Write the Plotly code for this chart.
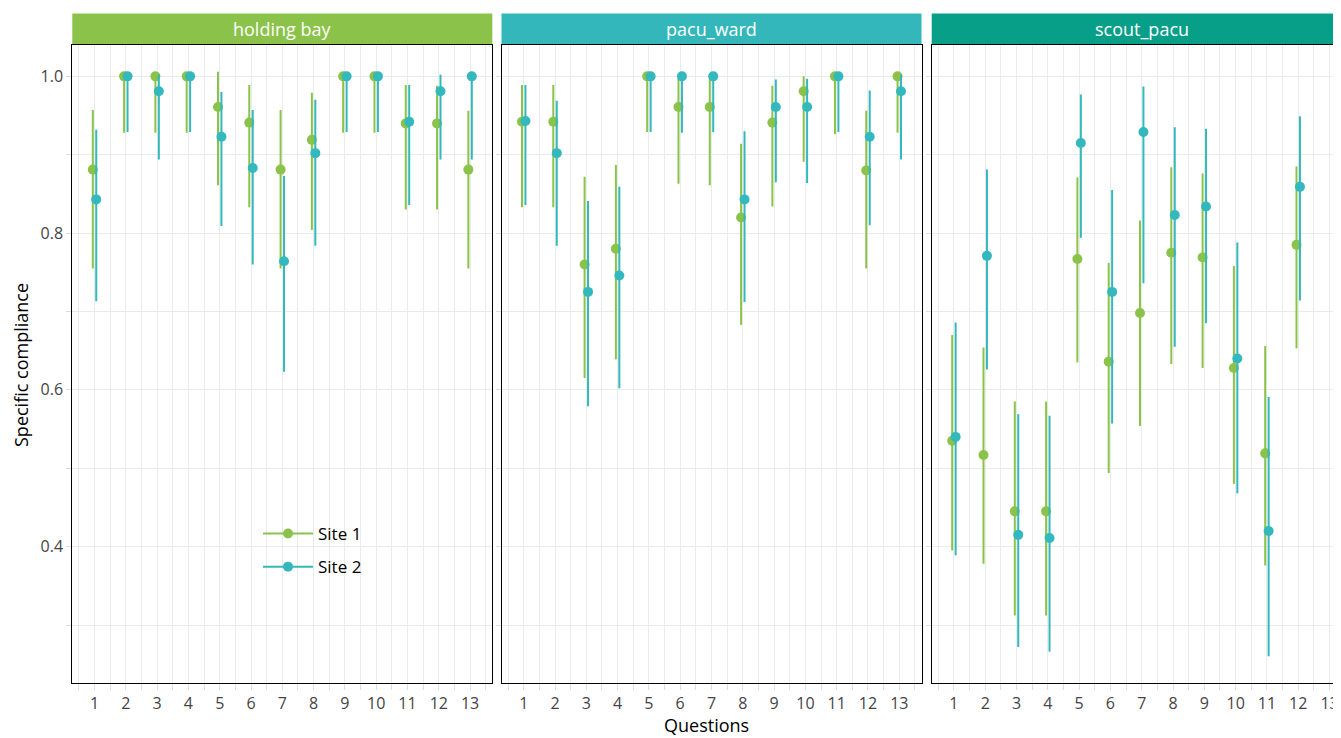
import plotly.graph_objects as go

# ---------------- data ----------------
questions = list(range(1, 14))
facets = ["holding bay", "pacu_ward", "scout_pacu"]
strip_colors = ["#8BC34A", "#33B7BA", "#079F87"]
site_names = ["Site 1", "Site 2"]
site_colors = ["#8BC34A", "#33B8BD"]

# holding bay
hb_s1 = [0.881, 1.0, 1.0, 1.0, 0.961, 0.941, 0.881, 0.919, 1.0, 1.0, 0.940, 0.940, 0.881]
hb_s1_lo = [0.755, 0.928, 0.928, 0.928, 0.861, 0.833, 0.755, 0.804, 0.928, 0.928, 0.830, 0.830, 0.755]
hb_s1_hi = [0.957, 1.0, 1.0, 1.0, 1.006, 0.989, 0.957, 0.979, 1.0, 1.0, 0.989, 0.988, 0.956]
hb_s2 = [0.843, 1.0, 0.981, 1.0, 0.923, 0.883, 0.764, 0.902, 1.0, 1.0, 0.942, 0.981, 1.0]
hb_s2_lo = [0.713, 0.929, 0.894, 0.929, 0.809, 0.760, 0.623, 0.784, 0.929, 0.929, 0.836, 0.894, 0.894]
hb_s2_hi = [0.932, 1.0, 1.002, 1.0, 0.980, 0.957, 0.873, 0.970, 1.0, 1.0, 0.989, 1.002, 1.0]

# pacu_ward
pw_s1 = [0.942, 0.942, 0.760, 0.780, 1.0, 0.961, 0.961, 0.820, 0.941, 0.981, 1.0, 0.880, 1.0]
pw_s1_lo = [0.833, 0.833, 0.615, 0.639, 0.929, 0.863, 0.861, 0.683, 0.834, 0.891, 0.926, 0.755, 0.928]
pw_s1_hi = [0.989, 0.989, 0.872, 0.887, 1.0, 0.997, 0.997, 0.914, 0.988, 1.0, 1.0, 0.956, 1.0]
pw_s2 = [0.943, 0.902, 0.725, 0.746, 1.0, 1.0, 1.0, 0.843, 0.961, 0.961, 1.0, 0.923, 0.981]
pw_s2_lo = [0.836, 0.784, 0.579, 0.602, 0.929, 0.928, 0.929, 0.712, 0.865, 0.864, 0.929, 0.810, 0.894]
pw_s2_hi = [0.989, 0.969, 0.841, 0.859, 1.0, 1.0, 1.0, 0.930, 0.996, 0.997, 1.0, 0.982, 1.002]

# scout_pacu (no question 13)
sp_s1 = [0.535, 0.517, 0.445, 0.445, 0.767, 0.636, 0.698, 0.775, 0.769, 0.628, 0.519, 0.785, None]
sp_s1_lo = [0.395, 0.378, 0.312, 0.312, 0.635, 0.494, 0.554, 0.633, 0.628, 0.480, 0.376, 0.653, None]
sp_s1_hi = [0.670, 0.654, 0.585, 0.585, 0.871, 0.762, 0.816, 0.884, 0.876, 0.758, 0.656, 0.885, None]
sp_s2 = [0.540, 0.771, 0.415, 0.411, 0.915, 0.725, 0.929, 0.823, 0.834, 0.640, 0.420, 0.859, None]
sp_s2_lo = [0.389, 0.626, 0.272, 0.266, 0.794, 0.557, 0.736, 0.655, 0.685, 0.468, 0.260, 0.714, None]
sp_s2_hi = [0.686, 0.881, 0.569, 0.567, 0.977, 0.855, 0.987, 0.935, 0.933, 0.788, 0.591, 0.949, None]

panel_data = [
    [(hb_s1, hb_s1_lo, hb_s1_hi), (hb_s2, hb_s2_lo, hb_s2_hi)],
    [(pw_s1, pw_s1_lo, pw_s1_hi), (pw_s2, pw_s2_lo, pw_s2_hi)],
    [(sp_s1, sp_s1_lo, sp_s1_hi), (sp_s2, sp_s2_lo, sp_s2_hi)],
]

y_major = [0.4, 0.6, 0.8, 1.0]
y_labels = ["0.4", "0.6", "0.8", "1.0"]

# ---------------- figure ----------------
FONT = "Open Sans"
OFF = 8  # default page body margin
W, H = 1341 - OFF, 738 - OFF
ML, MR, MT, MB = 72 - OFF, 0, 45 - OFF, 55
plot_w = W - ML - MR
plot_h = H - MT - MB

def px2fx(px):
    # px: pixel x in the target picture
    return (px - OFF - ML) / plot_w

def py2fy(py):
    return 1 - (py - OFF - MT) / plot_h

domains = [
    [px2fx(72.3), px2fx(492.3)],
    [px2fx(501.5), px2fx(921.5)],
    [px2fx(931.7), 1.0],
]
x_ranges = [[0.29, 13.71], [0.29, 13.71], [0.29, 0.29 + (1341 - 931.7) / 31.3]]
y_range = [0.226, 1.040]
dodge = [-0.055, 0.055]

fig = go.Figure()

for p in range(3):
    xa = "x" if p == 0 else f"x{p+1}"
    ya = "y" if p == 0 else f"y{p+1}"
    for s in range(2):
        vals, lo, hi = panel_data[p][s]
        xs, ys, up, dn = [], [], [], []
        for q, v, l, h in zip(questions, vals, lo, hi):
            if v is None:
                continue
            xs.append(q + dodge[s])
            ys.append(v)
            up.append(h - v)
            dn.append(v - l)
        fig.add_trace(go.Scatter(
            x=xs, y=ys, mode="markers", xaxis=xa, yaxis=ya,
            marker=dict(color=site_colors[s], size=10, line=dict(width=0)),
            error_y=dict(type="data", symmetric=False, array=up, arrayminus=dn,
                         color=site_colors[s], thickness=2, width=0),
            showlegend=False, hoverinfo="skip",
        ))

# legend entries
for s in range(2):
    fig.add_trace(go.Scatter(
        x=[None], y=[None], mode="lines+markers", name=site_names[s],
        line=dict(color=site_colors[s], width=2),
        marker=dict(color=site_colors[s], size=10),
        xaxis="x", yaxis="y", showlegend=True, legendgroup=f"g{s}",
    ))

grid_c = "#EBEBEB"
tick_c = "#DDDDDD"
tick_font = dict(family=FONT, size=16, color="#444444")
for p in range(3):
    xk = "xaxis" if p == 0 else f"xaxis{p+1}"
    yk = "yaxis" if p == 0 else f"yaxis{p+1}"
    fig.layout[xk] = dict(
        domain=domains[p], range=x_ranges[p], anchor="y" if p == 0 else f"y{p+1}",
        tickmode="array", tickvals=questions, ticktext=[str(q) for q in questions],
        showgrid=True, gridcolor=grid_c, gridwidth=1,
        ticks="outside", ticklen=6, tickcolor=tick_c, tickwidth=1,
        minor=dict(dtick=1, tick0=0.5, showgrid=True, gridcolor=grid_c, gridwidth=1,
                   ticks="outside", ticklen=6, tickcolor=tick_c, tickwidth=1),
        showline=True, mirror=True, linecolor="black", linewidth=1,
        zeroline=False, tickfont=tick_font,
    )
    fig.layout[yk] = dict(
        domain=[0, 1], range=y_range, anchor="x" if p == 0 else f"x{p+1}",
        tickmode="array", tickvals=y_major, ticktext=y_labels,
        showticklabels=(p == 0),
        showgrid=True, gridcolor=grid_c, gridwidth=1,
        ticks="outside", ticklen=5, tickcolor=tick_c, tickwidth=1,
        minor=dict(dtick=0.2, tick0=0.3, showgrid=True, gridcolor=grid_c, gridwidth=1,
                   ticks="outside", ticklen=5, tickcolor=tick_c, tickwidth=1),
        showline=True, mirror=True, linecolor="black", linewidth=1,
        zeroline=False, tickfont=tick_font,
    )

# facet strips
strip_top = py2fy(13.5)
shapes = []
annotations = []
for p in range(3):
    shapes.append(dict(type="rect", xref="paper", yref="paper",
                       x0=domains[p][0], x1=domains[p][1], y0=1.0, y1=strip_top,
                       fillcolor=strip_colors[p], line=dict(width=0), layer="below"))
    right = domains[p][1] if p < 2 else px2fx(1352)
    annotations.append(dict(text=facets[p], xref="paper", yref="paper",
                            x=(domains[p][0] + right) / 2,
                            y=(1.0 + strip_top) / 2, showarrow=False,
                            font=dict(family=FONT, size=18, color="white"),
                            xanchor="center", yanchor="middle"))

annotations.append(dict(text="Questions", xref="paper", yref="paper",
                        x=px2fx(706), y=py2fy(725), showarrow=False,
                        font=dict(family=FONT, size=18, color="black"),
                        xanchor="center", yanchor="middle"))
annotations.append(dict(text="Specific compliance", xref="paper", yref="paper",
                        x=px2fx(21), y=py2fy(365), showarrow=False,
                        textangle=-90,
                        font=dict(family=FONT, size=18, color="black"),
                        xanchor="center", yanchor="middle"))

fig.update_layout(
    width=W, height=H,
    margin=dict(l=ML, r=MR, t=MT, b=MB, autoexpand=False),
    plot_bgcolor="white", paper_bgcolor="white",
    shapes=shapes, annotations=annotations,
    legend=dict(x=px2fx(258), y=py2fy(516), xanchor="left", yanchor="top",
                bgcolor="rgba(0,0,0,0)", font=dict(family=FONT, size=17, color="black"),
                itemwidth=50, traceorder="grouped", tracegroupgap=8),
    font=dict(family=FONT),
)

fig.write_html("out.html")
